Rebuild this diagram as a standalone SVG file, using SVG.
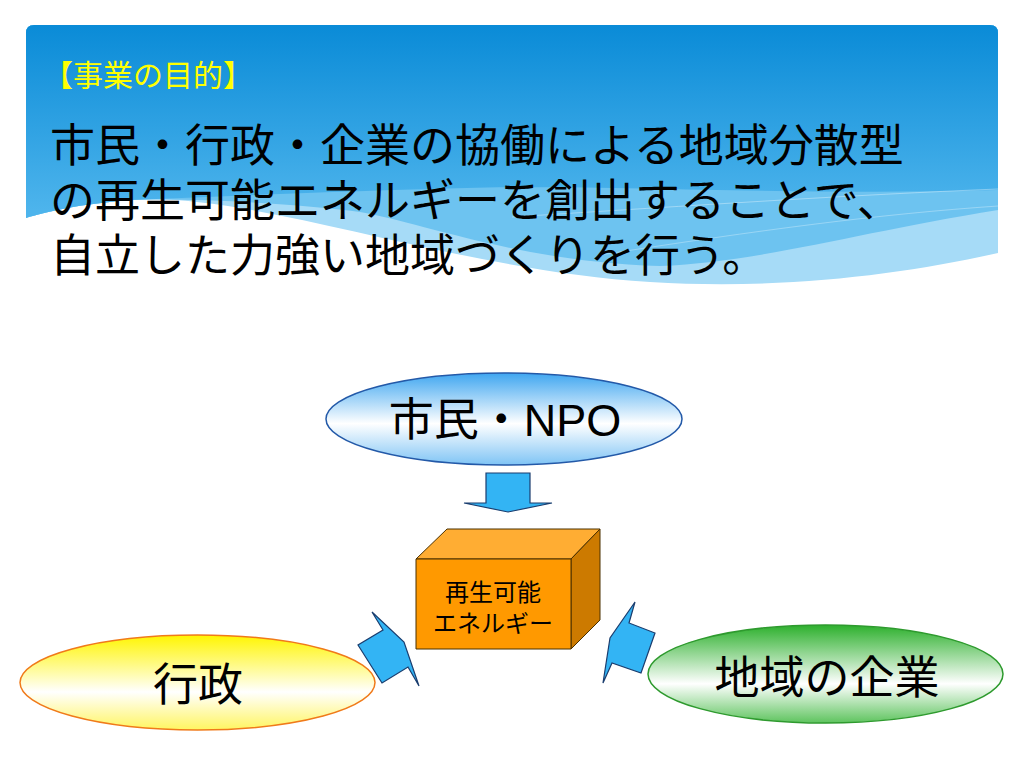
<svg xmlns="http://www.w3.org/2000/svg" width="1024" height="768" viewBox="0 0 1024 768">
  <defs>
    <linearGradient id="hdr" x1="0" y1="25" x2="0" y2="210" gradientUnits="userSpaceOnUse">
      <stop offset="0" stop-color="#0A8BD7"/>
      <stop offset="1" stop-color="#4DB4EC"/>
    </linearGradient>
    <linearGradient id="gBlue" x1="0" y1="0" x2="0" y2="1">
      <stop offset="0" stop-color="#3FA6F0"/>
      <stop offset="0.55" stop-color="#FFFFFF"/>
      <stop offset="1" stop-color="#7FC4F5"/>
    </linearGradient>
    <linearGradient id="gYellow" x1="0" y1="0" x2="0" y2="1">
      <stop offset="0" stop-color="#FFF500"/>
      <stop offset="0.6" stop-color="#FFFFFF"/>
      <stop offset="1" stop-color="#FFF560"/>
    </linearGradient>
    <linearGradient id="gGreen" x1="0" y1="0" x2="0" y2="1">
      <stop offset="0" stop-color="#2DB02D"/>
      <stop offset="0.6" stop-color="#FFFFFF"/>
      <stop offset="1" stop-color="#5EC45E"/>
    </linearGradient>
    <style>
      .jp { font-family: "Noto Sans CJK JP", "Noto Sans CJK SC", sans-serif; }
      .lat { font-family: "Liberation Sans", "Noto Sans CJK JP", sans-serif; }
      .title { font-size: 45px; fill: #000000; }
      .label { font-size: 45px; fill: #000000; text-anchor: middle; }
      .boxlabel { font-size: 24px; fill: #000000; text-anchor: middle; }
      .arrow { fill: #33B4F4; stroke: #1B3D6E; stroke-width: 1.2; stroke-linejoin: miter; }
      .face { stroke: #4A3000; stroke-width: 1; stroke-linejoin: round; }
    </style>
  </defs>

  <rect x="0" y="0" width="1024" height="768" fill="#FFFFFF"/>

  <g id="header">
    <path d="M26,33 Q26,25 34,25 L990,25 Q998,25 998,33 L998,253 C900,275 780,290 650,282 C450,270 250,190 130,200 C80,204 45,212 26,218 Z" fill="#A6DBF7"/>
    <path d="M26,33 Q26,25 34,25 L990,25 Q998,25 998,33 L998,210 C860,232 760,262 660,266 C520,262 420,222 360,212 C300,204 200,198 130,200 C80,204 45,212 26,218 Z" fill="#6DC3F0"/>
    <path d="M26,33 Q26,25 34,25 L990,25 Q998,25 998,33 L998,190 C800,196 600,184 467,188 C350,191 250,195 130,200 C80,204 45,212 26,218 Z" fill="url(#hdr)"/>
    <path d="M512,217 C700,205 850,195 998,189" fill="none" stroke="#FFFFFF" stroke-opacity="0.35" stroke-width="1"/>
    <path d="M600,255 C760,230 880,214 998,206" fill="none" stroke="#FFFFFF" stroke-opacity="0.3" stroke-width="1"/>
    <text x="43" y="86" class="jp" font-size="30" fill="#FFFF00">【事業の目的】</text>
    <text x="50" y="162" class="jp title">市民・行政・企業の協働による地域分散型</text>
    <text x="50" y="217" class="jp title">の再生可能エネルギーを創出することで、</text>
    <text x="50" y="272" class="jp title">自立した力強い地域づくりを行う。</text>
  </g>

  <g id="connectors">
    <polygon class="arrow" points="486,473 530,473 530,503 552,503 508,512 464,503 486,503"/>
    <polygon class="arrow" points="372,612 383,630 358,645 382,683 408,667 419,686 404,642"/>
    <polygon class="arrow" points="635,602 629,623 655,633 641,673 612,663 603,683 610,638"/>
  </g>

  <g id="node-citizens">
    <ellipse cx="504" cy="419" rx="178" ry="46" fill="url(#gBlue)" stroke="#2359A8" stroke-width="1.5"/>
    <text x="505" y="436" class="lat label">市民・NPO</text>
  </g>

  <g id="node-energy">
    <polygon class="face" points="416,559 447,529 600,529 571,559" fill="#FFAD33"/>
    <polygon class="face" points="571,559 600,529 600,620 571,649" fill="#CC7A00"/>
    <rect class="face" x="416" y="559" width="155" height="90" fill="#FF9900"/>
    <text x="493" y="601" class="jp boxlabel">再生可能</text>
    <text x="493" y="632" class="jp boxlabel">エネルギー</text>
  </g>

  <g id="node-government">
    <ellipse cx="197.5" cy="682.5" rx="177.5" ry="47.5" fill="url(#gYellow)" stroke="#F07A1A" stroke-width="1.5"/>
    <text x="198" y="701" class="jp label">行政</text>
  </g>

  <g id="node-companies">
    <ellipse cx="825.5" cy="674" rx="177.5" ry="49" fill="url(#gGreen)" stroke="#2E9A2E" stroke-width="1.5"/>
    <text x="827" y="694" class="jp label">地域の企業</text>
  </g>
</svg>
